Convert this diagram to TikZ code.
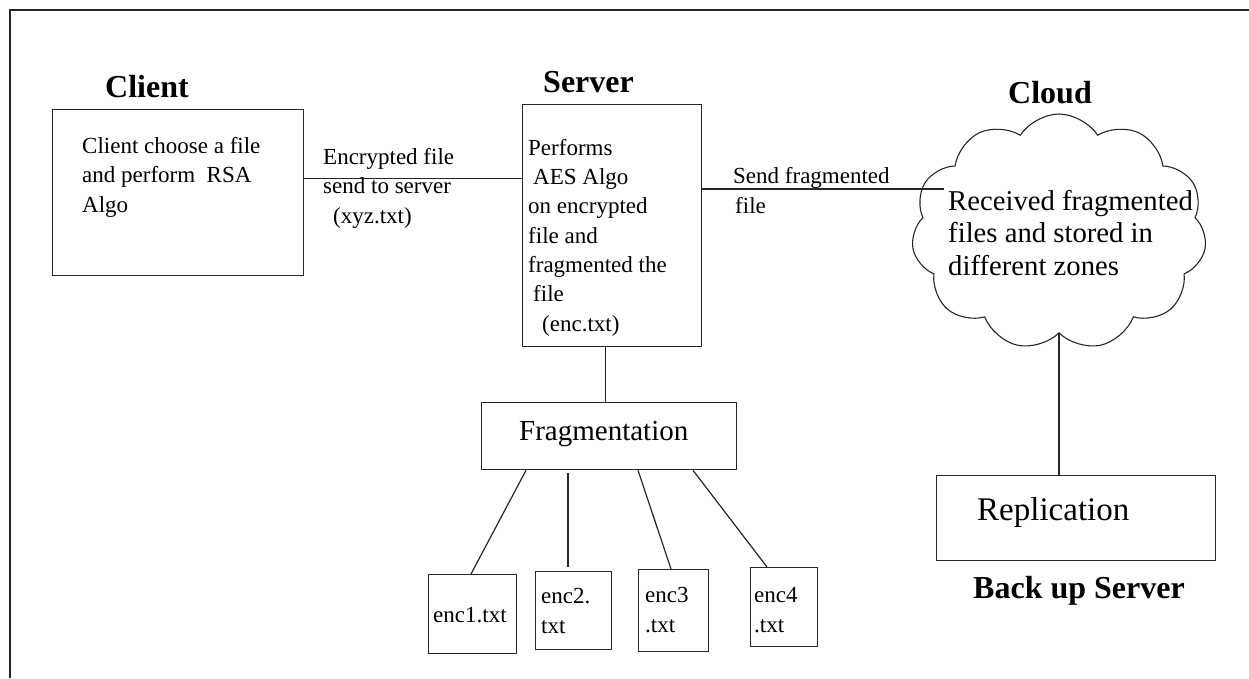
\documentclass[tikz,border=0pt]{standalone}
\usepackage{fontspec}
\setmainfont{Liberation Serif}
\usetikzlibrary{shapes.symbols,calc}

\tikzset{
  edge/.style={line width=1.2pt, draw=black!85},
  boxshape/.style={draw=black!85, line width=1.3pt, inner sep=0pt, anchor=north west},
  % multi-line texts are anchored at the baseline of their last line
  txt/.style={inner sep=0pt, anchor=base west, align=left, font=\fontsize{23}{29.3}\selectfont},
  head/.style={inner sep=0pt, anchor=base west, font=\fontsize{32}{36}\selectfont\bfseries},
}

\begin{document}
\begin{tikzpicture}[x=1pt,y=-1pt]
  \useasboundingbox (0,0) rectangle (1249,678);
  % page frame
  \draw[line width=1.6pt, draw=black!85] (10,678) -- (10,10) -- (1249,10);

  % headings
  \node[head] (hclient) at (105,97) {Client};
  \node[head] (hserver) at (543,92) {Server};
  \node[head] (hcloud) at (1008,103) {Cloud};
  \node[head] (hbackup) at (973,598) {Back up Server};

  % client
  \node[boxshape, minimum width=251pt, minimum height=166pt] (client) at (52,109) {};
  \node[txt] (clienttxt) at (82,212) {Client choose a file\\and perform\ \ RSA\\Algo};

  % server
  \node[boxshape, minimum width=179pt, minimum height=242pt] (server) at (522,104) {};
  \node[txt] (servertxt) at (528,331) {Performs\\\hspace*{5pt}AES Algo\\on encrypted\\file and\\fragmented the\\\hspace*{5pt}file\\\hspace*{14pt}(enc.txt)};

  % cloud
  \node[cloud, draw=black!85, line width=1.1pt, cloud puffs=11, cloud puff arc=115,
        aspect=1.25, minimum width=295pt, minimum height=236pt, inner sep=0pt] (cloud) at (1059,232) {};
  \node[inner sep=0pt, anchor=base west, align=left, font=\fontsize{28.7}{32.5}\selectfont]
    (cloudtxt) at (948,275) {Received fragmented\\files and stored in\\different zones};

  % fragmentation
  \node[boxshape, minimum width=255pt, minimum height=67pt] (frag) at (481,402) {};
  \node[inner sep=0pt, anchor=base west, font=\fontsize{29}{34}\selectfont] (fragtxt) at (519,440) {Fragmentation};

  % replication
  \node[boxshape, minimum width=279pt, minimum height=85pt] (repl) at (936,475) {};
  \node[inner sep=0pt, anchor=base west, font=\fontsize{33}{36}\selectfont] (repltxt) at (977,520) {Replication};

  % fragment files
  \node[boxshape, minimum width=88pt, minimum height=79pt] (enca) at (428,574) {};
  \node[boxshape, minimum width=76pt, minimum height=78pt] (encb) at (535,571) {};
  \node[boxshape, minimum width=70pt, minimum height=82pt] (encc) at (638,569) {};
  \node[boxshape, minimum width=67pt, minimum height=79pt] (encd) at (750,567) {};
  \node[txt] (encatxt) at (433,622) {enc1.txt};
  \node[txt] (encbtxt) at (541,633) {enc2.\\txt};
  \node[txt] (encctxt) at (645,632) {enc3\\.txt};
  \node[txt] (encdtxt) at (754,632) {enc4\\.txt};

  % connectors
  \draw[edge] ([yshift=14pt]client.east) -- ([yshift=14pt]client.east -| server.west);
  \coordinate (cloudin) at ([xshift=31pt,yshift=43pt]cloud.west);
  \draw[edge] (server.east |- cloudin) -- (cloudin);
  \draw[edge] ([xshift=-3.5pt]frag.north) -- ([xshift=-3.5pt]frag.north |- server.south);
  \draw[edge] (cloud.south) -- (cloud.south |- repl.north);
  \draw[edge] ([xshift=45pt]frag.south west) -- ([xshift=43pt]enca.north west);
  \draw[edge] ([xshift=87pt,yshift=-3pt]frag.south west) -- ([xshift=33pt,yshift=4pt]encb.north west);
  \draw[edge] ([xshift=157pt]frag.south west) -- ([xshift=33pt]encc.north west);
  \draw[edge] ([xshift=212pt]frag.south west) -- ([xshift=17pt]encd.north west);

  % connector labels
  \node[txt] (lblenc) at (323,223) {Encrypted file\\send to server\\\hspace*{10pt}(xyz.txt)};
  \node[txt] (lblsend) at (733,213) {Send fragmented\\\hspace*{2pt}file};
\end{tikzpicture}
\end{document}
